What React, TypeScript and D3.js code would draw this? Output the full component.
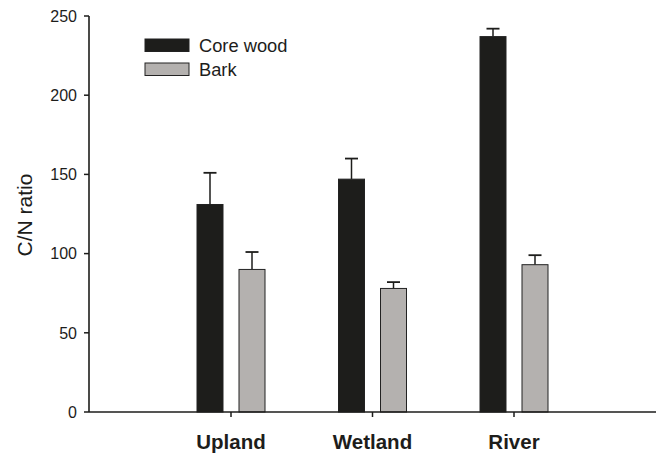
import React from 'react';
import * as d3 from 'd3';

const sites = ['Upland', 'Wetland', 'River'];
const seriesNames = ['Core wood', 'Bark'];
const coreWood = [131, 147, 237];
const coreWoodErr = [20, 13, 5];
const bark = [90, 78, 93];
const barkErr = [11, 4, 6];
const yTicks = [0, 50, 100, 150, 200, 250];

const W = 657;
const H = 456;
const margin = { top: 16, right: 1, bottom: 44, left: 89 };
const colors = ['#1d1d1b', '#b4b1af'];
const font = 'Liberation Sans, Arial, Helvetica, sans-serif';

export default function App() {
  const y = d3.scaleLinear().domain([0, 250]).range([H - margin.bottom, margin.top]);
  const x = d3.scalePoint<string>().domain(sites).range([231, 514]);
  const barW = 26;
  const inner = 8;
  const values = [coreWood, bark];
  const errs = [coreWoodErr, barkErr];

  return (
    <svg width={W} height={H} style={{ position: 'absolute', left: 0, top: 0 }} fontFamily={font}>
      <rect width={W} height={H} fill="#fff" />
      {values.map((vals, s) =>
        vals.map((v, i) => {
          const cx = x(sites[i])!;
          const x0 = s === 0 ? cx - inner - barW : cx + inner;
          const mid = x0 + barW / 2;
          const top = y(v + errs[s][i]);
          return (
            <g key={`${s}-${i}`}>
              <line x1={mid} x2={mid} y1={y(v)} y2={top} stroke="#1d1d1b" strokeWidth={1.5} />
              <line x1={mid - 6.5} x2={mid + 6.5} y1={top} y2={top} stroke="#1d1d1b" strokeWidth={1.8} />
              <rect x={x0} y={y(v)} width={barW} height={y(0) - y(v)} fill={colors[s]} stroke="#222" strokeWidth={1} />
            </g>
          );
        })
      )}
      {/* y axis */}
      <line x1={margin.left} x2={margin.left} y1={y(250)} y2={y(0)} stroke="#1d1d1b" strokeWidth={1.6} />
      {yTicks.map((t) => (
        <g key={t}>
          <line x1={margin.left - 5} x2={margin.left} y1={y(t)} y2={y(t)} stroke="#1d1d1b" strokeWidth={1.5} />
          <text x={margin.left - 12} y={y(t)} dy="0.36em" textAnchor="end" fontSize={16} fill="#1d1d1b">
            {t}
          </text>
        </g>
      ))}
      {/* x axis */}
      <line x1={margin.left} x2={W - margin.right} y1={y(0)} y2={y(0)} stroke="#1d1d1b" strokeWidth={1.6} />
      {sites.map((s) => (
        <g key={s}>
          <line x1={x(s)!} x2={x(s)!} y1={y(0)} y2={y(0) + 5} stroke="#1d1d1b" strokeWidth={1.5} />
          <text x={x(s)!} y={449} textAnchor="middle" fontSize={20.5} fontWeight="bold" fill="#1d1d1b">
            {s}
          </text>
        </g>
      ))}
      <text transform={`translate(32,215) rotate(-90)`} textAnchor="middle" fontSize={21} fill="#1d1d1b">
        C/N ratio
      </text>
      {/* legend */}
      {seriesNames.map((n, i) => (
        <g key={n} transform={`translate(145,${39 + i * 24})`}>
          <rect width={44} height={12.5} fill={colors[i]} stroke="#222" strokeWidth={1} />
          <text x={54} y={13} fontSize={18.3} fill="#1d1d1b">
            {n}
          </text>
        </g>
      ))}
    </svg>
  );
}
